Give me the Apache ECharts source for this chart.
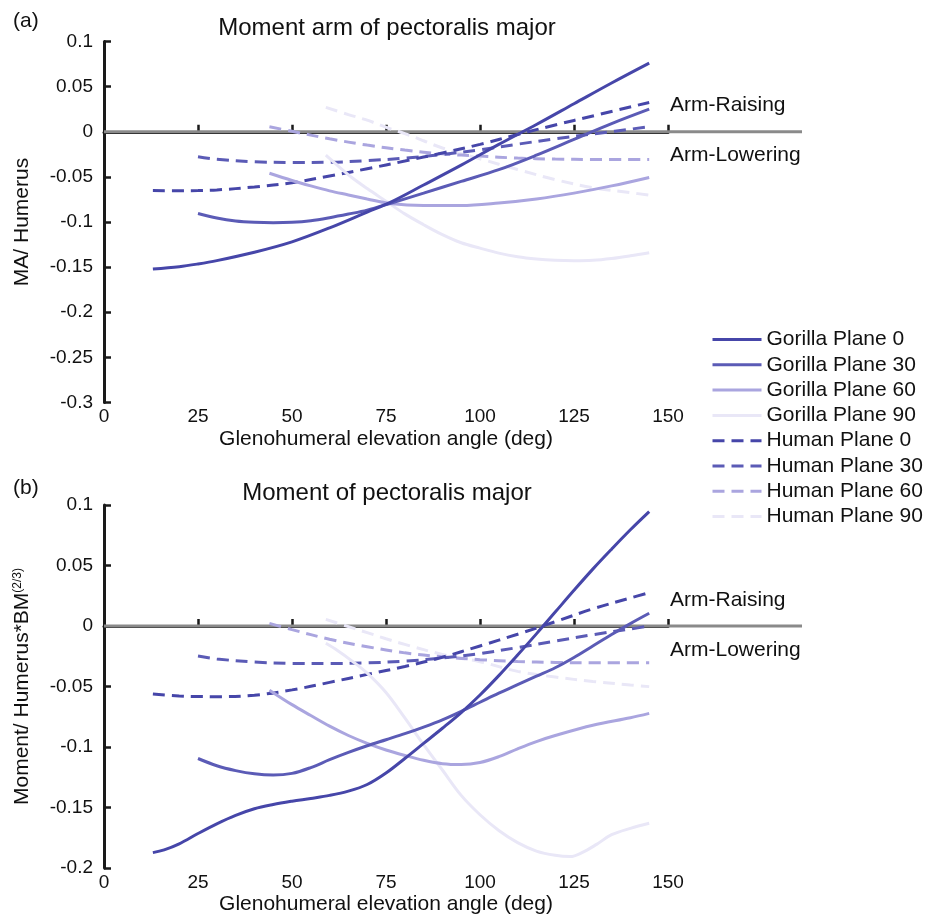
<!DOCTYPE html>
<html>
<head>
<meta charset="utf-8">
<script src="https://cdn.jsdelivr.net/npm/echarts@6/dist/echarts.min.js"></script>
<style>
html,body{margin:0;padding:0;background:#fff;}
#chart{width:933px;height:917px;}
</style>
</head>
<body>
<div id="chart"></div>
<script>
// ---------- Data ----------
const seriesNames = ['Gorilla Plane 0','Gorilla Plane 30','Gorilla Plane 60','Gorilla Plane 90',
                     'Human Plane 0','Human Plane 30','Human Plane 60','Human Plane 90'];
const xTicks = [0, 25, 50, 75, 100, 125, 150];

// (a) Moment arm / Humerus
const aG0x = [13, 20, 25, 30, 40, 50, 60, 70, 76, 85, 95, 105, 115, 125, 135, 145];
const aG0y = [-0.152, -0.1495, -0.1465, -0.1428, -0.1335, -0.122, -0.1065, -0.089, -0.0785, -0.059, -0.037, -0.014, 0.008, 0.031, 0.054, 0.076];
const aG30x = [25, 30, 35, 40, 45, 50, 55, 60, 65, 70, 76, 85, 95, 105, 115, 125, 135, 145];
const aG30y = [-0.0905, -0.0955, -0.0988, -0.1003, -0.1008, -0.1003, -0.0985, -0.0952, -0.0912, -0.0868, -0.0795, -0.068, -0.055, -0.042, -0.026, -0.0085, 0.009, 0.025];
const aG60x = [44, 50, 55, 60, 65, 70, 76, 85, 95, 105, 115, 125, 135, 145];
const aG60y = [-0.046, -0.054, -0.060, -0.0655, -0.070, -0.0745, -0.0795, -0.0818, -0.0818, -0.079, -0.0745, -0.068, -0.060, -0.0506];
const aG90x = [59, 62, 66, 70, 75, 80, 85, 90, 95, 100, 105, 110, 115, 120, 125, 130, 135, 140, 145];
const aG90y = [-0.026, -0.037, -0.051, -0.063, -0.077, -0.091, -0.103, -0.114, -0.123, -0.129, -0.1345, -0.1385, -0.141, -0.1425, -0.143, -0.1425, -0.1405, -0.1375, -0.134];
const aH0x = [13, 20, 25, 30, 40, 50, 60, 70, 80, 90, 100, 110, 120, 130, 145];
const aH0y = [-0.0652, -0.0654, -0.0652, -0.0645, -0.0612, -0.0565, -0.049, -0.041, -0.0325, -0.0235, -0.014, -0.003, 0.0075, 0.0175, 0.0325];
const aH30x = [25, 30, 40, 50, 60, 70, 80, 90, 100, 110, 120, 130, 145];
const aH30y = [-0.0277, -0.0305, -0.0333, -0.034, -0.0338, -0.032, -0.0292, -0.0252, -0.0200, -0.0138, -0.0078, -0.0025, 0.0055];
const aH60x = [44, 50, 60, 70, 80, 90, 100, 110, 120, 130, 145];
const aH60y = [0.0055, 0.0005, -0.0078, -0.0148, -0.0203, -0.0245, -0.027, -0.0292, -0.0303, -0.0307, -0.0307];
const aH90x = [59, 65, 70, 75, 80, 85, 90, 100, 110, 120, 130, 140, 145];
const aH90y = [0.027, 0.019, 0.0128, 0.005, -0.002, -0.010, -0.018, -0.030, -0.0418, -0.053, -0.062, -0.0675, -0.0702];

// (b) Moment / Humerus*BM^(2/3)
const bG0x = [13, 16, 20, 25, 30, 35, 40, 45, 50, 55, 60, 65, 70, 75, 80, 85, 90, 95, 100, 105, 110, 115, 120, 125, 130, 135, 140, 145];
const bG0y = [-0.1873, -0.185, -0.180, -0.1715, -0.1635, -0.1565, -0.151, -0.1475, -0.1448, -0.1425, -0.140, -0.1365, -0.131, -0.1215, -0.1095, -0.097, -0.0845, -0.0715, -0.057, -0.041, -0.024, -0.0065, 0.0115, 0.0295, 0.047, 0.0635, 0.0795, 0.0945];
const bG30x = [25, 30, 35, 40, 45, 50, 55, 60, 65, 70, 75, 80, 85, 90, 95, 100, 105, 110, 115, 120, 125, 130, 135, 140, 145];
const bG30y = [-0.1095, -0.1155, -0.1195, -0.1222, -0.1232, -0.1218, -0.117, -0.1105, -0.1045, -0.099, -0.094, -0.089, -0.0835, -0.0775, -0.0705, -0.063, -0.0555, -0.0485, -0.0415, -0.0345, -0.026, -0.0165, -0.007, 0.002, 0.0105];
const bG60x = [44, 50, 55, 60, 65, 70, 75, 80, 85, 90, 95, 100, 105, 110, 115, 120, 130, 140, 145];
const bG60y = [-0.053, -0.065, -0.074, -0.0828, -0.0905, -0.097, -0.1025, -0.107, -0.111, -0.1138, -0.1145, -0.1128, -0.108, -0.1015, -0.0955, -0.0905, -0.082, -0.0758, -0.0722];
const bG90x = [59, 62, 66, 70, 75, 80, 85, 90, 95, 100, 105, 110, 115, 120, 124, 127, 131, 135, 140, 145];
const bG90y = [-0.0143, -0.020, -0.029, -0.039, -0.055, -0.076, -0.098, -0.119, -0.140, -0.156, -0.169, -0.179, -0.186, -0.1895, -0.1905, -0.1875, -0.1805, -0.1725, -0.1672, -0.163];
const bH0x = [13, 20, 25, 30, 40, 50, 60, 70, 80, 90, 100, 110, 120, 130, 140, 145];
const bH0y = [-0.0562, -0.0578, -0.0583, -0.0584, -0.0572, -0.0528, -0.0466, -0.0400, -0.0335, -0.0258, -0.0165, -0.0068, 0.0035, 0.0142, 0.0232, 0.0275];
const bH30x = [25, 30, 40, 50, 60, 70, 80, 90, 100, 110, 120, 130, 140, 145];
const bH30y = [-0.0248, -0.0272, -0.0298, -0.0309, -0.031, -0.0305, -0.029, -0.0265, -0.0228, -0.0178, -0.0125, -0.0072, -0.0025, 0.0];
const bH60x = [44, 50, 60, 70, 80, 90, 100, 110, 120, 130, 145];
const bH60y = [0.0022, -0.003, -0.011, -0.0171, -0.0222, -0.0255, -0.0278, -0.0293, -0.0301, -0.0304, -0.0303];
const bH90x = [59, 65, 70, 75, 80, 90, 100, 110, 120, 130, 140, 145];
const bH90y = [0.0055, -0.0005, -0.0055, -0.0105, -0.0152, -0.0235, -0.0295, -0.0375, -0.0422, -0.0458, -0.0488, -0.0501];

const zeroLineX = [0, 1];
const zeroLineY = [0, 0];

// ---------- Styles ----------
const colors = ['#4646a9', '#5b5bb6', '#aaa5df', '#e9e7f7', '#4646a9', '#5b5bb6', '#aaa5df', '#e9e7f7'];
const FONT = 'Liberation Sans, Arial, Helvetica, sans-serif';
const TXT = '#111';

function pairs(xs, ys) { return xs.map((v, i) => [v, ys[i]]); }

const aSets = [[aG0x,aG0y],[aG30x,aG30y],[aG60x,aG60y],[aG90x,aG90y],[aH0x,aH0y],[aH30x,aH30y],[aH60x,aH60y],[aH90x,aH90y]];
const bSets = [[bG0x,bG0y],[bG30x,bG30y],[bG60x,bG60y],[bG90x,bG90y],[bH0x,bH0y],[bH30x,bH30y],[bH60x,bH60y],[bH90x,bH90y]];

const series = [];
[2, 3].forEach(gi => {
  series.push({
    type: 'line', xAxisIndex: gi, yAxisIndex: gi, data: pairs(zeroLineX, zeroLineY),
    symbol: 'none', silent: true, z: 1,
    lineStyle: { color: '#8a8a8a', width: 3 }
  });
});
[aSets, bSets].forEach((sets, gi) => {
  sets.forEach((s, i) => {
    series.push({
      name: seriesNames[i], type: 'line', xAxisIndex: gi, yAxisIndex: gi,
      data: pairs(s[0], s[1]), symbol: 'none', showSymbol: false,
      smooth: 0.35, z: 3 + (8 - i),
      itemStyle: { color: colors[i] },
      lineStyle: { color: colors[i], width: 3, type: i >= 4 ? [12, 7] : 'solid', cap: 'butt' }
    });
  });
});

const gridA = { left: 104, top: 41.5, width: 564, height: 361 };
const gridB = { left: 104, top: 505, width: 564, height: 363 };

function xAxisCfg(gi) {
  return {
    type: 'value', gridIndex: gi, min: 0, max: 150, interval: 25,
    name: 'Glenohumeral elevation angle (deg)', nameLocation: 'middle', nameGap: 26,
    nameTextStyle: { fontFamily: FONT, fontSize: 21, color: TXT },
    axisLine: { show: true, lineStyle: { color: '#1a1a1a', width: 3 } },
    axisTick: { show: true, inside: true, length: 7, lineStyle: { color: '#1a1a1a', width: 2.5 } },
    axisLabel: { fontFamily: FONT, fontSize: 19, color: TXT, margin: 5 },
    splitLine: { show: false }
  };
}
function yAxisCfg(gi, min, name) {
  return {
    type: 'value', gridIndex: gi, min: min, max: 0.1, interval: 0.05,
    name: name, nameLocation: 'middle', nameRotate: 90, nameGap: 71,
    nameTextStyle: { fontFamily: FONT, fontSize: 21, color: TXT,
      rich: { sup: { fontFamily: FONT, fontSize: 12, color: TXT, verticalAlign: 'top', lineHeight: 21 } } },
    axisLine: { show: true, onZero: false, lineStyle: { color: '#1a1a1a', width: 3 } },
    axisTick: { show: true, inside: true, length: 7, lineStyle: { color: '#1a1a1a', width: 2.5 } },
    axisLabel: { fontFamily: FONT, fontSize: 19, color: TXT, margin: 11,
      formatter: v => String(+(+v).toFixed(2)) },
    splitLine: { show: false }
  };
}
function hiddenX(gi) { return { type: 'value', gridIndex: gi, min: 0, max: 1, show: false }; }
function hiddenY(gi, min) { return { type: 'value', gridIndex: gi, min: min, max: 0.1, show: false }; }

const annot = [
  { text: '(a)', x: 13, y: 21, align: 'left', size: 21 },
  { text: 'Moment arm of pectoralis major', x: 387, y: 28, align: 'center', size: 24 },
  { text: '(b)', x: 13, y: 488, align: 'left', size: 21 },
  { text: 'Moment of pectoralis major', x: 387, y: 493, align: 'center', size: 24 },
  { text: 'Arm-Raising', x: 670, y: 105, align: 'left', size: 21 },
  { text: 'Arm-Lowering', x: 670, y: 155, align: 'left', size: 21 },
  { text: 'Arm-Raising', x: 670, y: 600, align: 'left', size: 21 },
  { text: 'Arm-Lowering', x: 670, y: 650, align: 'left', size: 21 }
];

const option = {
  backgroundColor: '#fff',
  animation: false,
  grid: [
    gridA, gridB,
    { left: 104, top: 41.5, width: 698, height: 361 },
    { left: 104, top: 505, width: 698, height: 363 }
  ],
  xAxis: [xAxisCfg(0), xAxisCfg(1), hiddenX(2), hiddenX(3)],
  yAxis: [
    yAxisCfg(0, -0.3, 'MA/ Humerus'),
    yAxisCfg(1, -0.2, 'Moment/ Humerus*BM{sup|(2/3)}'),
    hiddenY(2, -0.3), hiddenY(3, -0.2)
  ],
  legend: {
    data: seriesNames, orient: 'vertical', left: 706, top: 324,
    itemWidth: 49, itemHeight: 14, itemGap: 4.3,
    itemStyle: { opacity: 0 },
    lineStyle: { width: 3 },
    textStyle: { fontFamily: FONT, fontSize: 21, color: TXT, lineHeight: 21 },
    selectedMode: false
  },
  graphic: annot.map(a => ({
    type: 'text', x: a.x, y: a.y, silent: true,
    style: { text: a.text, fill: TXT, font: a.size + 'px ' + FONT, textAlign: a.align, textVerticalAlign: 'middle' }
  })),
  series: series
};

const chart = echarts.init(document.getElementById('chart'), null, { renderer: 'canvas' });
chart.setOption(option);
</script>
</body>
</html>
